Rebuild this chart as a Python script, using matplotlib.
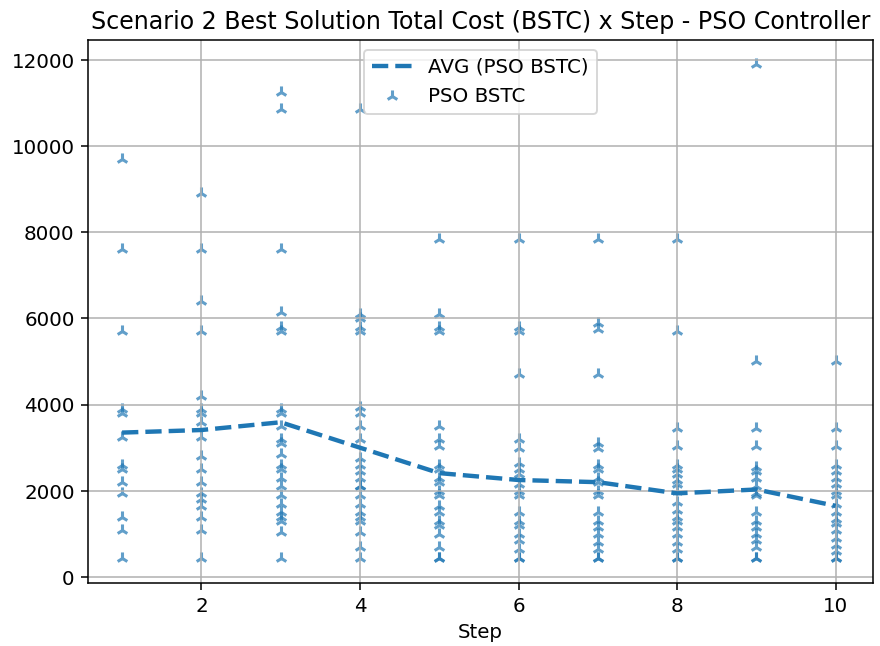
import numpy as np
import matplotlib.pyplot as plt

# BSTC values per step
steps = [1, 2, 3, 4, 5, 6, 7, 8, 9, 10]

step1 = [9700, 7600, 5700, 3900, 3800, 3250, 2600, 2500, 2200, 1950, 1400, 1100, 450]
step2 = [8900, 7600, 6400, 5700, 4200, 3900, 3800, 3600, 3250, 2800, 2500, 2200,
         1950, 1800, 1650, 1400, 1100, 450]
step3 = [11250, 10850, 7600, 6150, 5800, 5700, 3900, 3800, 3500, 3200, 3100, 2850,
         2600, 2500, 2300, 2100, 1900, 1700, 1500, 1400, 1300, 1050, 450]
step4 = [10850, 6100, 6000, 5800, 5700, 3950, 3800, 3500, 3200, 2750, 2600, 2450,
         2300, 2100, 2100, 1900, 1700, 1500, 1400, 1300, 1050, 700, 450]
step5 = [7850, 6100, 5800, 5700, 3500, 3200, 3050, 2600, 2500, 2300, 2200, 2000,
         1900, 1650, 1500, 1300, 1200, 1000, 700, 430, 430]
step6 = [7850, 5800, 5700, 4700, 3200, 3000, 2650, 2500, 2400, 2150, 2000, 1900,
         1500, 1300, 1200, 1000, 850, 650, 430, 430]
step7 = [7850, 5900, 5750, 4700, 3100, 3000, 2600, 2500, 2300, 2200, 2000, 1900,
         1500, 1300, 1150, 1000, 800, 650, 430, 430]
step8 = [7850, 5700, 3450, 3050, 2600, 2500, 2400, 2250, 2150, 2000, 1750, 1550,
         1400, 1300, 1150, 1000, 800, 650, 430, 430]
step9 = [11900, 5000, 3450, 3050, 2550, 2450, 2300, 2100, 1950, 1900, 1500, 1300,
         1150, 1000, 850, 700, 430, 430]
step10 = [5000, 3450, 3050, 2600, 2450, 2300, 2150, 2000, 1900, 1700, 1500, 1350,
          1250, 1100, 900, 750, 600, 430, 430]

avg_bstc = [3350, 3410, 3590, 3000, 2410, 2250, 2200, 1940, 2030, 1650]

all_steps = [step1, step2, step3, step4, step5, step6, step7, step8, step9, step10]

xs = np.concatenate([[s] * len(v) for s, v in zip(steps, all_steps)])
ys = np.concatenate(all_steps)

plt.rcParams['font.size'] = 10.4

fig = plt.figure(figsize=(6.4, 4.7), dpi=137.5)
ax = fig.add_axes([0.1, 0.0975, 0.892, 0.8405])

ax.plot(steps, avg_bstc, '--', color='tab:blue', linewidth=2.3, label='AVG (PSO BSTC)')
ax.scatter(xs, ys, marker='2', s=40, linewidths=1.6, color='tab:blue', alpha=0.7,
           label='PSO BSTC')

ax.set_xlim(0.57, 10.47)
ax.set_ylim(-140, 12465)
ax.set_xticks([2, 4, 6, 8, 10])
ax.set_yticks(range(0, 12001, 2000))
ax.grid(True)
ax.set_xlabel('Step')
ax.set_title('Scenario 2 Best Solution Total Cost (BSTC) x Step - PSO Controller',
             fontsize=12.45)
ax.legend(loc='upper center')

fig.savefig('out.png', dpi=137.5)
